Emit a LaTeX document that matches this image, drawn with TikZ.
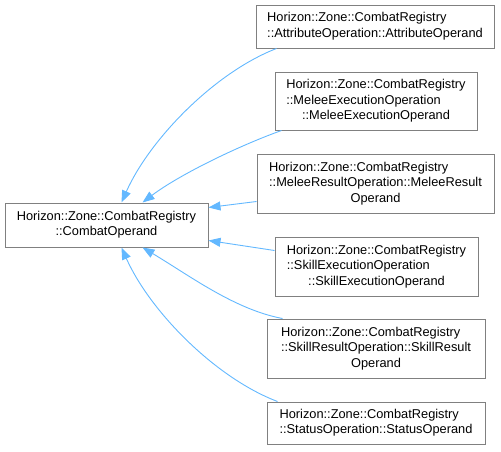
\documentclass[tikz,border=0pt]{standalone}
\usepackage{fontspec}
\setmainfont{Liberation Sans}
\usetikzlibrary{arrows.meta,calc}
\definecolor{edgeblue}{HTML}{63B8FF}
\definecolor{boxgray}{HTML}{808080}
\newcommand{\dlab}[2]{\begin{tabular}{@{}l@{}}#1\\\multicolumn{1}{@{}c@{}}{#2}\end{tabular}}
\begin{document}
\begin{tikzpicture}[x=1pt,y=-1pt,
  cls/.style={draw=boxgray, fill=white, line width=1pt, inner sep=0pt, anchor=center,
    font=\fontsize{12.8}{15.5}\selectfont},
  inh/.style={draw=edgeblue, line width=0.9pt, -{Triangle[length=12pt,width=9pt]}}]
\useasboundingbox (0,0) rectangle (501,451);
\node[cls, minimum width=203pt, minimum height=44pt] (base) at (106.5,225)
  {\dlab{Horizon::Zone::CombatRegistry}{::CombatOperand}};
\node[cls, minimum width=238pt, minimum height=43pt] (b1) at (375,26.5)
  {\dlab{Horizon::Zone::CombatRegistry}{::AttributeOperation::AttributeOperand}};
\node[cls, minimum width=202pt, minimum height=58pt] (b2) at (376,101)
  {\dlab{Horizon::Zone::CombatRegistry\\::MeleeExecutionOperation}{::MeleeExecutionOperand}};
\node[cls, minimum width=237pt, minimum height=59pt] (b3) at (375.5,183.5)
  {\dlab{Horizon::Zone::CombatRegistry\\::MeleeResultOperation::MeleeResult}{Operand}};
\node[cls, minimum width=203pt, minimum height=59pt] (b4) at (376.5,266.5)
  {\dlab{Horizon::Zone::CombatRegistry\\::SkillExecutionOperation}{::SkillExecutionOperand}};
\node[cls, minimum width=218pt, minimum height=59pt] (b5) at (376,348.5)
  {\dlab{Horizon::Zone::CombatRegistry\\::SkillResultOperation::SkillResult}{Operand}};
\node[cls, minimum width=218pt, minimum height=42pt] (b6) at (376,423)
  {\dlab{Horizon::Zone::CombatRegistry}{::StatusOperation::StatusOperand}};
\draw[inh] ($(b1.south west)+(21,0)$) .. controls +(-62,24) and +(28,-63) .. ($(base.north west)+(117,0)$);
\draw[inh] ($(b2.south west)+(7,0)$) .. controls +(-42,15) and +(37,-28) .. ($(base.north west)+(138,0)$);
\draw[inh] ($(b3.north west)+(0,48)$) -- ($(base.north east)+(0,5)$);
\draw[inh] ($(b4.north west)+(0,14)$) -- ($(base.north east)+(0,38)$);
\draw[inh] ($(b5.north west)+(16,0)$) .. controls +(-48,-9) and +(47,28) .. ($(base.south west)+(138,0)$);
\draw[inh] ($(b6.north west)+(11,0)$) .. controls +(-63,-24) and +(28,63) .. ($(base.south west)+(117,0)$);
\end{tikzpicture}
\end{document}
